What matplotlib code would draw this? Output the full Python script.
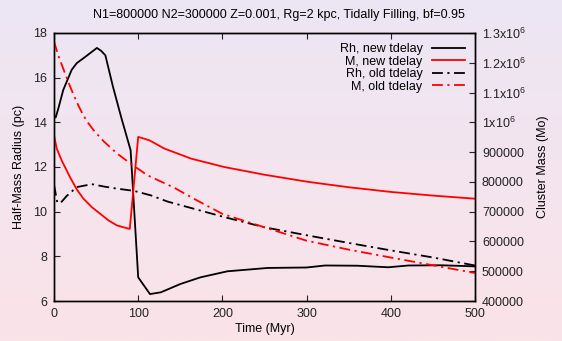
import numpy as np
import matplotlib
matplotlib.use('Agg')
import matplotlib.pyplot as plt
from matplotlib.colors import LinearSegmentedColormap

plt.rcParams['font.family'] = ['Liberation Sans', 'DejaVu Sans']
plt.rcParams['mathtext.fontset'] = 'custom'
plt.rcParams['mathtext.rm'] = 'Liberation Sans'

# Rh, new tdelay (pc)
t_rh_new = [0, 2, 5, 11, 21, 27, 35, 43, 51, 56, 61, 70, 80, 91, 100, 114, 127,
            150, 174, 206, 254, 300, 322, 360, 397, 421, 460, 500]
rh_new = [14.3, 14.22, 14.6, 15.45, 16.35, 16.65, 16.87, 17.1, 17.33, 17.2,
          17.0, 15.6, 14.2, 12.75, 7.06, 6.31, 6.39, 6.76, 7.06, 7.33, 7.48, 7.5, 7.59,
          7.58, 7.51, 7.59, 7.6, 7.55]

# M, new tdelay (Mo)
t_m_new = [0, 3, 9, 19, 27, 35, 45, 55, 65, 75, 90, 100, 113, 131, 163, 202, 250, 302,
           350, 401, 450, 500]
m_new = [957000, 914000, 872500, 816000, 775000, 743500, 715000, 692500, 670000, 653500,
         642000, 951000, 940000, 912000, 878000, 850000, 824000, 800000, 782000, 766000,
         754000, 743500]

# Rh, old tdelay (pc)
t_rh_old = [0, 4, 8, 15, 27, 45, 60, 75, 95, 115, 135, 202, 250, 302, 350, 401, 450, 500]
rh_old = [11.2, 10.4, 10.4, 10.7, 11.1, 11.23, 11.12, 11.03, 10.93, 10.73, 10.45,
          9.76, 9.3, 8.93, 8.6, 8.26, 7.95, 7.59]

# M, old tdelay (Mo)
t_m_old = [0, 5, 11, 17, 23, 29, 35, 41, 47, 59, 75, 91, 111, 143, 170, 200, 250, 300,
           350, 400, 450, 500]
m_old = [1271500, 1225000, 1180000, 1135000, 1093750, 1056250, 1022500, 996250, 973750,
         936250, 895000, 861250, 822250, 780000, 737500, 692500, 647500, 602500, 572500,
         546000, 520000, 494000]

x_ticks = [0, 100, 200, 300, 400, 500]
y_ticks = [6, 8, 10, 12, 14, 16, 18]
m_ticks = [400000, 500000, 600000, 700000, 800000, 900000, 1000000, 1100000, 1200000, 1300000]
m_labels = ['400000', '500000', '600000', '700000', '800000', '900000',
            '1x10$^6$', '1.1x10$^6$', '1.2x10$^6$', '1.3x10$^6$']

fig = plt.figure(figsize=(5.62, 3.41), dpi=100)

# background gradient
bg = fig.add_axes([0, 0, 1, 1], zorder=-10)
cmap = LinearSegmentedColormap.from_list('bg', ['#ece6f4', '#fbe3e8'])
bg.imshow(np.linspace(0, 1, 256).reshape(-1, 1), aspect='auto', cmap=cmap,
          extent=[0, 1, 0, 1])
bg.axis('off')

ax = fig.add_axes([0.0961, 0.1173, 0.749, 0.786])
ax.patch.set_alpha(0)
ax2 = ax.twinx()

fs = 9
dashdot = (0, (6, 2.5, 1.2, 2.5))
h1, = ax.plot(t_rh_new, rh_new, color='black', lw=1.3, label='Rh, new tdelay')
h2, = ax2.plot(t_m_new, m_new, color='#ff0000', lw=1.3, label='M, new tdelay')
h3, = ax.plot(t_rh_old, rh_old, color='black', lw=1.3, ls=dashdot, label='Rh, old tdelay')
h4, = ax2.plot(t_m_old, m_old, color='#ff0000', lw=1.3, ls=dashdot, label='M, old tdelay')

ax.set_xlim(0, 500)
ax.set_ylim(6, 18)
ax2.set_ylim(400000, 1300000)
ax.set_xticks(x_ticks)
ax.set_yticks(y_ticks)
ax2.set_yticks(m_ticks)
ax2.set_yticklabels(m_labels)

ax.tick_params(direction='in', length=4, labelsize=fs, top=True, pad=5, colors='#222222')
ax.tick_params(axis='y', right=False)
ax2.tick_params(direction='in', length=4, labelsize=fs, pad=5, colors='#222222')
for a in (ax, ax2):
    for s in a.spines.values():
        s.set_linewidth(1.0)

ax.set_xlabel('Time (Myr)', fontsize=fs, labelpad=2)
ax.set_ylabel('Half-Mass Radius (pc)', fontsize=fs, labelpad=6)
ax2.set_ylabel('Cluster Mass (Mo)', fontsize=fs, labelpad=8)
fig.text(0.497, 0.955, 'N1=800000 N2=300000 Z=0.001, Rg=2 kpc, Tidally Filling, bf=0.95',
         ha='center', va='center', fontsize=fs)

ax.legend(handles=[h1, h2, h3, h4], loc='upper right', frameon=False, fontsize=fs,
          markerfirst=False, handlelength=2.6, labelspacing=0.05, borderaxespad=0.4,
          handletextpad=0.8)

fig.savefig('out.png', dpi=100)
